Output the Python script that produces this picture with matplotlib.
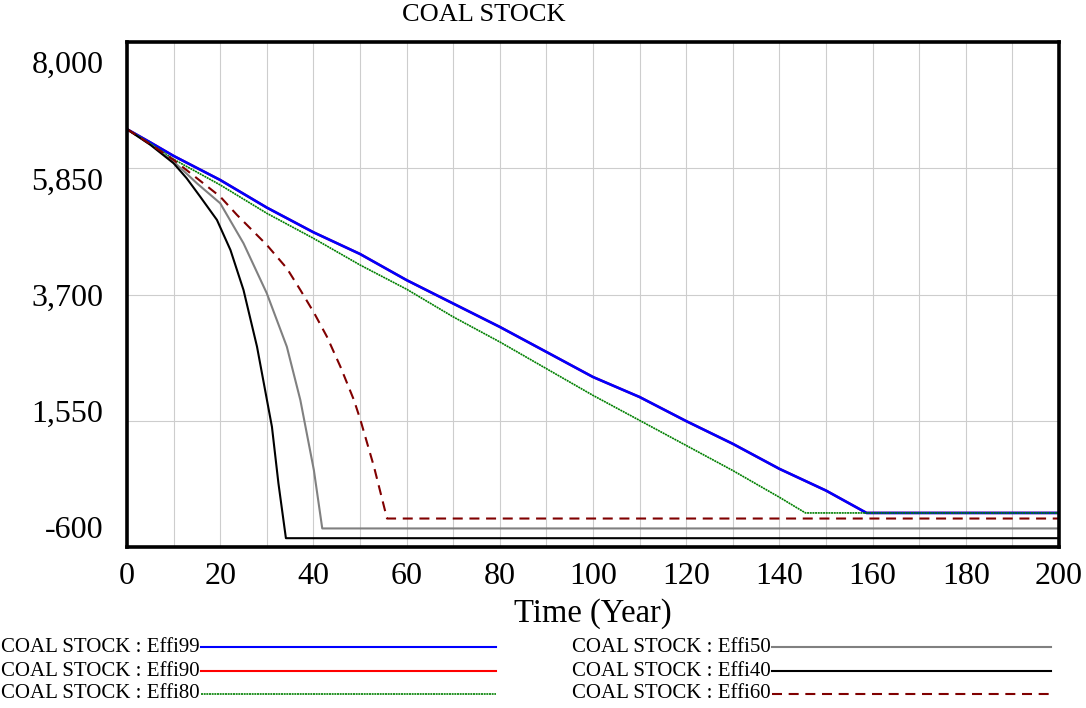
import matplotlib
matplotlib.use("Agg")
import matplotlib.pyplot as plt
from matplotlib.lines import Line2D

# ---- data ----
t_effi99 = [0, 5, 10, 20, 30, 40, 50, 60, 70, 80, 90, 100, 110, 120, 130, 140, 150, 158.7, 200]
effi99 = [6515, 6290, 6060, 5650, 5180, 4760, 4390, 3945, 3546, 3148, 2722, 2295, 1954, 1544, 1157, 731, 361, -20, -20]

t_effi90 = list(t_effi99)
effi90 = list(effi99)

t_effi80 = [0, 5, 10, 20, 30, 40, 50, 60, 70, 80, 90, 100, 110, 120, 130, 140, 145.6, 200]
effi80 = [6515, 6270, 6003, 5566, 5083, 4657, 4203, 3790, 3319, 2892, 2437, 1982, 1556, 1129, 702, 247, -20, -20]

t_effi60 = [0, 5, 10, 15, 20, 23.6, 30, 34.3, 37.2, 40.2, 42.9, 45.8, 48.7, 50.1, 53, 55.8, 200]
effi60 = [6515, 6260, 5992, 5680, 5367, 5055, 4544, 4146, 3777, 3379, 2982, 2470, 1902, 1562, 767, -115, -115]

t_effi50 = [0, 5, 10, 15, 20, 25, 30, 34.3, 37.2, 40.1, 41.9, 200]
effi50 = [6515, 6255, 5964, 5594, 5254, 4572, 3720, 2811, 1902, 710, -284, -284]

t_effi40 = [0, 5, 10, 12.8, 15.7, 19.3, 22.2, 25, 27.9, 31.1, 32.5, 34.1, 200]
effi40 = [6515, 6250, 5935, 5680, 5367, 4970, 4458, 3777, 2811, 1448, 482, -450, -450]

y_ticks = [8000, 5850, 3700, 1550, -600]
y_tick_labels = ["8,000", "5,850", "3,700", "1,550", "-600"]
x_ticks = list(range(0, 201, 20))
x_grid = list(range(0, 201, 10))

title = "COAL STOCK"
xlabel = "Time (Year)"

series = [
    ("COAL STOCK : Effi90", t_effi90, effi90, dict(color="#ff0000", lw=1.7)),
    ("COAL STOCK : Effi99", t_effi99, effi99, dict(color="#0000ff", lw=1.9)),
    ("COAL STOCK : Effi80", t_effi80, effi80, dict(color="#008000", lw=1.2, linestyle=(0, (1.2, 0.4)))),
    ("COAL STOCK : Effi50", t_effi50, effi50, dict(color="#808080", lw=1.5)),
    ("COAL STOCK : Effi40", t_effi40, effi40, dict(color="#000000", lw=1.5)),
    ("COAL STOCK : Effi60", t_effi60, effi60, dict(color="#800000", lw=1.5, linestyle=(0, (4.8, 3.2)))),
]

plt.rcParams["font.family"] = ["Liberation Serif", "DejaVu Serif"]

W, H = 1086, 708
fig = plt.figure(figsize=(W / 100, H / 100), dpi=100)
ax = fig.add_axes([127 / W, 1 - 547 / H, (1059 - 127) / W, (547 - 42) / H])

ymin, ymax = -600, 8000
ax.set_xlim(0, 200)
ax.set_ylim(ymin, ymax)

# grid
for x in x_grid[1:-1]:
    ax.axvline(x, color="#cdcdcd", lw=0.8, zorder=0)
for y in y_ticks[1:-1]:
    ax.axhline(y, color="#cdcdcd", lw=0.8, zorder=0)

for name, t, v, st in series:
    ax.plot(t, v, solid_capstyle="butt", **st)

# y labels placed Vensim-style (compressed toward centre)
mid = (ymin + ymax) / 2
label_pos = [mid + (v - mid) * 0.92 for v in y_ticks]
ax.set_yticks(label_pos)
ax.set_yticklabels(y_tick_labels)
ax.set_xticks(x_ticks)
ax.set_xticklabels([str(x) for x in x_ticks])
ax.tick_params(axis="y", length=0, pad=17, labelsize=23)
ax.tick_params(axis="x", length=0, pad=11, labelsize=23)

for s in ax.spines.values():
    s.set_linewidth(2.6)
    s.set_color("black")

ax.set_xlabel(xlabel, fontsize=23.5, labelpad=5)
fig.text(484 / W, 1 - 15 / H, title, ha="center", va="center", fontsize=19)

# legend (Vensim style: text followed by line sample)
leg_left = [("COAL STOCK : Effi99", "#0000ff", "-"),
            ("COAL STOCK : Effi90", "#ff0000", "-"),
            ("COAL STOCK : Effi80", "#008000", "-")]
leg_right = [("COAL STOCK : Effi50", "#808080", "-"),
             ("COAL STOCK : Effi40", "#000000", "-"),
             ("COAL STOCK : Effi60", "#800000", "--")]
rows_y = [647, 671, 694]
for (items, tx, x0, x1) in [(leg_left, 200, 201, 496), (leg_right, 771, 772, 1051)]:
    for (lab, col, ls), yy in zip(items, rows_y):
        fy = 1 - yy / H
        fig.text(tx / W, fy, lab, ha="right", va="center", fontsize=15)
        kw = dict(color=col, lw=1.5)
        if ls == "--":
            kw["linestyle"] = (0, (4.8, 3.2))
        elif col == "#008000":
            kw["linestyle"] = (0, (1.2, 0.4))
            kw["lw"] = 1.2
        fig.add_artist(Line2D([x0 / W, x1 / W], [fy, fy], transform=fig.transFigure, **kw))

fig.savefig("out.png", dpi=100)
